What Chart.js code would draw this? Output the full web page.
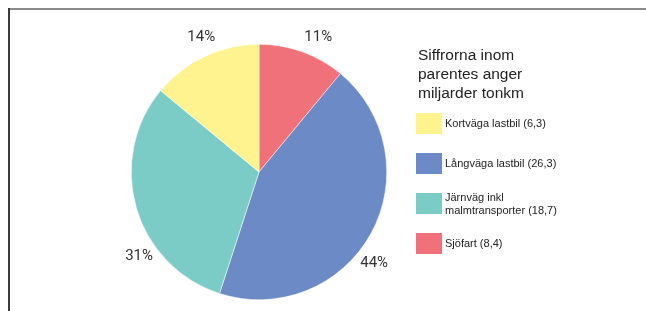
<!DOCTYPE html>
<html>
<head>
<meta charset="utf-8">
<script src="https://cdn.jsdelivr.net/npm/chart.js@4.4.1/dist/chart.umd.min.js"></script>
<style>
  html, body { margin: 0; padding: 0; background: #fff; }
  #wrap { position: relative; width: 646px; height: 311px; overflow: hidden; }
  #frameTop { position: absolute; left: 9px; top: 8px; width: 637px; height: 2px; background: #8a8a8a; }
  #frameLeft { position: absolute; left: 8px; top: 8px; width: 2px; height: 303px; background: #3a3a3a; }
  #legend { position: absolute; left: 416px; top: 45px; font-family: "Liberation Sans", Arial, sans-serif; color: #222; }
  #legend .title { font-size: 15.5px; line-height: 19px; margin-left: 2px; }
  #legend .item { position: absolute; left: 0; width: 220px; height: 21px; }
  #legend .box { position: absolute; left: 0; top: 0; width: 26px; height: 21px; }
  #legend .txt { position: absolute; left: 29px; top: 50%; transform: translateY(-50%); font-size: 11px; line-height: 13.5px; white-space: nowrap; }
</style>
</head>
<body>
<div id="wrap">
  <canvas id="pie" width="646" height="311"></canvas>
  <div id="frameTop"></div>
  <div id="frameLeft"></div>
  <div id="legend"></div>
</div>
<script>
// order as the slices run clockwise from 12 o'clock
var categories = ['Sjöfart', 'Långväga lastbil', 'Järnväg inkl\nmalmtransporter', 'Kortväga lastbil'];
// share of each slice in percent, as printed beside the pie
var shares = [11, 44, 31, 14];
// the figures in brackets in the legend (miljarder tonkm)
var tonkm = ['8,4', '26,3', '18,7', '6,3'];
var colors = ['#f1717b', '#6c8ac5', '#7bccc6', '#fff38f'];
var legendTitle = ['Siffrorna inom', 'parentes anger', 'miljarder tonkm'];
var legendOrder = [3, 1, 2, 0];

var total = shares.reduce((a, b) => a + b, 0);

// percentage labels outside the pie
var pctLabels = {
    id: 'pctLabels',
    afterDatasetsDraw(chart, args, opts) {
        var ctx = chart.ctx;
        var arcs = chart.getDatasetMeta(0).data;
        ctx.save();
        ctx.font = '15px Roboto, sans-serif';
        ctx.fillStyle = '#333';
        ctx.textAlign = 'center';
        ctx.textBaseline = 'middle';
        arcs.forEach(function (arc, i) {
            var p = arc.getProps(['x', 'y', 'startAngle', 'endAngle', 'outerRadius'], true);
            var mid = (p.startAngle + p.endAngle) / 2 + (opts.nudge[i] || 0) * Math.PI / 180;
            var r = p.outerRadius + opts.gap;
            var x = p.x + Math.cos(mid) * r;
            var y = p.y + Math.sin(mid) * r;
            ctx.fillText(Math.round(shares[i] / total * 100) + '%', x, y);
        });
        ctx.restore();
    }
};

var ctx = document.getElementById('pie').getContext('2d');
var pieChart = new Chart(ctx, {
    type: 'pie',
    data: {
        labels: categories,
        datasets: [{
            data: shares,
            backgroundColor: colors,
            borderColor: '#ffffff',
            borderWidth: 0.5
        }]
    },
    options: {
        responsive: false,
        animation: false,
        devicePixelRatio: 1,
        layout: { padding: { left: 131, top: 44, right: 259, bottom: 11 } },
        plugins: {
            legend: { display: false },
            tooltip: { enabled: false },
            pctLabels: { gap: 19, nudge: [4, 9.5, -19, 2] }
        }
    },
    plugins: [pctLabels]
});

// legend
var lg = document.getElementById('legend');
var t = document.createElement('div');
t.className = 'title';
t.innerHTML = legendTitle.join('<br>');
lg.appendChild(t);
legendOrder.forEach(function (idx, k) {
    var item = document.createElement('div');
    item.className = 'item';
    item.style.top = (68 + k * 40) + 'px';
    var box = document.createElement('div');
    box.className = 'box';
    box.style.background = colors[idx];
    var txt = document.createElement('div');
    txt.className = 'txt';
    txt.innerHTML = categories[idx].replace('\n', '<br>') + ' (' + tonkm[idx] + ')';
    item.appendChild(box);
    item.appendChild(txt);
    lg.appendChild(item);
});
</script>
</body>
</html>
